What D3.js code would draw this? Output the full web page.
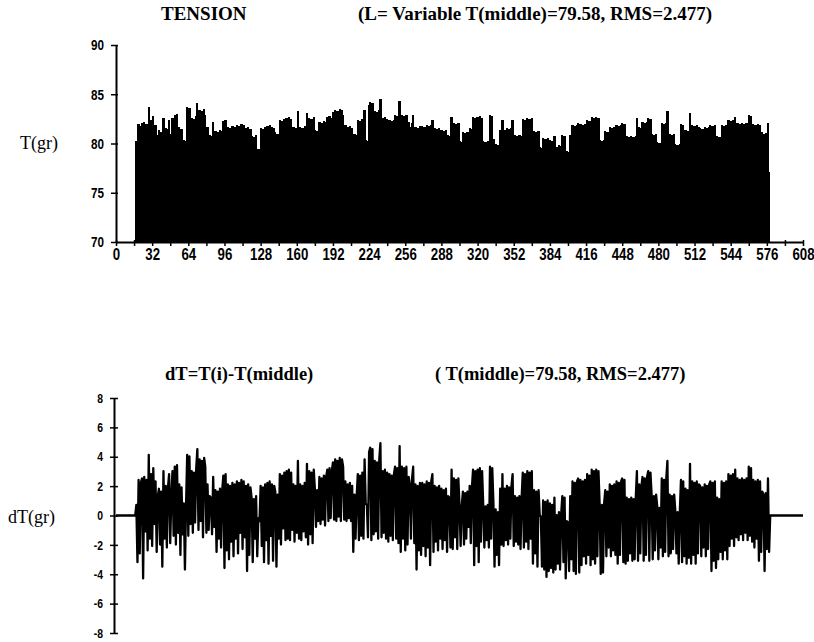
<!DOCTYPE html>
<html>
<head>
<meta charset="utf-8">
<script src="https://cdn.jsdelivr.net/npm/d3@7"></script>
<style>
body { margin: 0; background: #fff; }
</style>
</head>
<body>
<svg id="chart" width="814" height="642"></svg>
<script>
// tension samples, first one is sample no. 18, last one no. 578
var firstIndex = 18;
var tension = [
80.3, 76.4, 82.0, 77.0, 81.8, 82.1, 75.3, 82.2, 78.5, 82.0,
77.2, 83.7, 78.0, 82.4, 77.5, 82.8, 79.0, 81.9, 77.1, 80.9,
81.4, 77.6, 81.2, 76.1, 82.6, 78.0, 81.6, 77.4, 81.5, 82.4,
77.7, 81.0, 82.6, 78.2, 82.9, 77.6, 83.0, 78.4, 81.7, 76.9,
81.5, 78.3, 80.4, 75.9, 80.3, 83.7, 78.2, 83.6, 79.0, 82.6,
78.4, 82.5, 79.1, 82.8, 84.1, 78.6, 83.4, 79.2, 83.3, 78.1,
83.5, 82.9, 78.4, 81.7, 78.6, 80.9, 80.8, 78.3, 82.2, 78.8,
81.3, 77.1, 81.2, 78.0, 81.4, 77.4, 81.3, 82.3, 76.0, 82.4,
77.2, 81.7, 76.6, 81.6, 77.8, 81.8, 76.8, 81.7, 78.0, 81.9,
77.0, 81.8, 78.4, 82.0, 77.3, 81.9, 78.1, 81.6, 75.8, 81.7,
76.9, 81.5, 80.8, 76.4, 80.7, 78.0, 80.9, 76.8, 79.4, 79.2,
81.6, 77.5, 81.5, 76.4, 81.7, 77.9, 81.8, 76.3, 81.9, 78.2,
81.7, 76.5, 81.6, 81.2, 76.1, 81.0, 78.0, 82.4, 77.6, 82.3,
78.7, 82.5, 77.9, 82.6, 78.0, 82.7, 77.9, 82.5, 78.6, 81.7,
77.8, 81.6, 78.4, 83.3, 78.0, 81.7, 77.9, 81.6, 78.5, 81.8,
78.1, 83.1, 77.6, 82.6, 78.3, 82.5, 77.7, 82.7, 81.4, 78.8,
81.3, 79.2, 82.2, 79.0, 82.1, 79.3, 82.3, 78.9, 82.2, 82.7,
79.2, 82.8, 79.4, 82.6, 83.2, 79.3, 83.4, 79.2, 83.3, 79.5,
83.5, 79.2, 83.4, 82.9, 79.3, 81.9, 79.2, 81.7, 79.4, 81.8,
79.2, 81.6, 77.1, 81.0, 78.0, 80.9, 82.4, 77.9, 82.3, 78.2,
82.5, 78.0, 83.4, 80.4, 80.3, 78.1, 83.9, 84.2, 77.9, 84.1,
78.3, 83.3, 78.5, 83.2, 78.0, 83.4, 84.5, 78.1, 82.6, 78.4,
82.7, 78.0, 82.5, 77.8, 82.4, 78.2, 82.3, 77.9, 82.4, 82.9,
78.0, 82.8, 77.7, 84.3, 77.1, 82.9, 78.0, 82.8, 77.2, 82.9,
77.6, 82.2, 81.7, 78.0, 82.1, 82.9, 77.7, 81.7, 75.9, 81.6,
77.2, 81.8, 76.9, 81.8, 77.5, 81.7, 76.8, 81.9, 77.4, 81.8,
76.2, 81.9, 82.4, 77.1, 81.6, 77.8, 81.5, 77.2, 81.6, 78.0,
81.4, 77.3, 81.3, 77.9, 81.4, 77.1, 80.9, 80.8, 77.4, 82.7,
77.3, 82.1, 78.1, 82.0, 77.3, 82.1, 80.3, 77.5, 80.2, 81.2,
77.6, 81.1, 78.0, 81.2, 78.8, 81.6, 77.7, 81.5, 82.7, 76.2,
82.6, 77.5, 82.7, 76.4, 82.8, 77.8, 82.6, 80.3, 77.4, 80.2,
77.9, 80.3, 77.4, 82.9, 78.0, 82.8, 80.5, 76.1, 80.0, 76.9,
79.8, 76.2, 81.4, 77.6, 82.4, 77.5, 81.4, 77.9, 81.6, 77.6,
81.5, 78.0, 81.6, 82.4, 77.5, 80.9, 77.8, 80.8, 77.6, 80.9,
77.3, 80.8, 82.5, 77.4, 82.4, 77.8, 82.6, 77.3, 82.5, 78.0,
82.6, 76.3, 81.3, 77.0, 81.2, 76.1, 81.3, 79.6, 79.5, 76.1,
80.6, 75.9, 80.5, 75.4, 80.6, 75.8, 80.4, 76.0, 80.3, 75.7,
80.8, 75.9, 79.6, 76.3, 79.8, 75.9, 79.7, 80.9, 76.4, 80.8,
75.3, 79.2, 79.1, 75.8, 80.9, 76.6, 81.9, 75.8, 81.8, 75.6,
81.9, 82.1, 75.7, 82.0, 76.2, 81.9, 76.8, 82.0, 76.3, 82.4,
76.9, 82.3, 76.2, 82.7, 76.6, 82.6, 76.3, 82.7, 76.8, 82.6,
80.4, 75.6, 80.3, 75.7, 80.4, 81.3, 76.8, 81.2, 77.4, 81.7,
76.8, 81.6, 77.2, 81.7, 76.9, 81.9, 76.3, 81.8, 76.9, 81.9,
82.1, 76.4, 82.0, 76.3, 80.8, 76.5, 80.7, 77.0, 80.8, 76.5,
80.7, 76.6, 80.8, 82.6, 76.5, 81.7, 77.0, 81.6, 82.2, 76.5,
82.1, 76.9, 82.2, 82.6, 76.5, 82.5, 81.0, 76.6, 80.9, 77.2,
81.0, 80.2, 76.6, 80.1, 77.4, 82.1, 76.8, 82.0, 77.1, 82.1,
83.3, 76.8, 81.0, 77.0, 80.9, 77.3, 81.0, 79.9, 77.0, 79.8,
76.3, 79.9, 82.0, 76.4, 81.9, 76.8, 81.4, 76.3, 81.3, 76.7,
83.1, 76.3, 81.9, 76.9, 81.8, 76.3, 81.9, 77.0, 81.7, 81.6,
76.8, 81.5, 77.4, 81.7, 76.8, 81.6, 77.3, 81.7, 81.9, 75.8,
81.8, 76.5, 81.9, 76.0, 80.8, 76.6, 80.7, 77.1, 81.9, 76.6,
81.8, 77.2, 81.9, 76.6, 82.4, 77.5, 82.3, 78.0, 82.4, 77.5,
82.7, 78.1, 82.1, 77.9, 82.0, 78.3, 82.1, 77.9, 82.0, 78.4,
82.1, 77.9, 82.9, 78.2, 82.8, 77.8, 82.0, 77.4, 81.9, 78.0,
82.0, 76.5, 81.9, 77.1, 81.2, 81.0, 75.8, 81.1, 77.3, 82.1,
77.1
];
var tMiddle = 79.58;
var lastSample = 608;

var xTicks = d3.range(0, 609, 16);
var xLabelEvery = 32;
var yTicksTop = [70, 75, 80, 85, 90];
var yTicksBottom = [-8, -6, -4, -2, 0, 2, 4, 6, 8];

var titleTop = "TENSION";
var subTop = "(L= Variable  T(middle)=79.58, RMS=2.477)";
var titleBottom = "dT=T(i)-T(middle)";
var subBottom = "( T(middle)=79.58, RMS=2.477)";

var svg = d3.select("#chart");
var serif = "'Liberation Serif', 'Times New Roman', serif";
var sans = "'Liberation Sans', Arial, sans-serif";

var x = d3.scaleLinear().domain([0, lastSample]).range([116, 803]);
var yTop = d3.scaleLinear().domain([70, 90]).range([242, 45]);
var yBot = d3.scaleLinear().domain([-8, 8]).range([633, 398]);
var step = x(1) - x(0);

// bars (a bit wider than a sample, like the printed plot)
svg.append("g")
.attr("shape-rendering", "crispEdges")
.selectAll("rect")
.data(tension)
.join("rect")
.attr("x", (d, i) => x(firstIndex + i - 1))
.attr("width", 2 * step)
.attr("y", d => yTop(d))
.attr("height", d => yTop(70) - yTop(d))
.attr("fill", "#000");

var gx = svg.append("g")
.attr("transform", `translate(0,${yTop(70)})`)
.call(d3.axisBottom(x)
.tickValues(xTicks)
.tickSize(4)
.tickSizeOuter(0)
.tickPadding(2)
.tickFormat(d => d % xLabelEvery === 0 ? d : ""));
gx.select(".domain").attr("stroke-width", 2);
gx.selectAll(".tick line").attr("y1", -2).attr("stroke-width", 1.5);
gx.selectAll(".tick text")
.attr("font-family", sans).attr("font-size", 17).attr("font-weight", "bold")
.attr("fill", "#000")
.attr("transform", "scale(0.78,1)");

var gy = svg.append("g")
.attr("transform", `translate(${x(0)},0)`)
.call(d3.axisLeft(yTop)
.tickValues(yTicksTop)
.tickSize(5)
.tickSizeOuter(0));
gy.select(".domain").attr("stroke-width", 2);
gy.selectAll(".tick line").attr("x2", -5).attr("x1", 2).attr("stroke-width", 1.5);
gy.selectAll(".tick text")
.attr("x", null)
.attr("transform", "translate(-12,0) scale(0.78,1)")
.attr("font-family", sans).attr("font-size", 15).attr("font-weight", "bold")
.attr("fill", "#000");

// bottom panel: dT, zero where no sample exists
var dT = d3.range(0, lastSample + 1).map(function(i) {
var k = i - firstIndex;
return (k >= 0 && k < tension.length) ? tension[k] - tMiddle : 0;
});

svg.append("path")
.datum(dT)
.attr("fill", "none")
.attr("stroke", "#000")
.attr("stroke-width", 2.3)
.attr("stroke-linejoin", "round")
.attr("d", d3.line().x((d, i) => x(i)).y(d => yBot(d)));

var gy2 = svg.append("g")
.attr("transform", `translate(114,0)`)
.call(d3.axisLeft(yBot)
.tickValues(yTicksBottom)
.tickSize(4)
.tickSizeOuter(0)
.tickFormat(d => String(d)));
gy2.select(".domain").attr("stroke-width", 2);
gy2.selectAll(".tick line").attr("x1", 4).attr("x2", -4).attr("stroke-width", 1.5);
gy2.selectAll(".tick text")
.attr("x", null)
.attr("transform", "translate(-11,0) scale(0.8,1)")
.attr("font-family", sans).attr("font-size", 13).attr("font-weight", "bold")
.attr("fill", "#000");

// texts
svg.append("text").attr("x", 161).attr("y", 20)
.attr("font-family", serif).attr("font-weight", "bold").attr("font-size", 19)
.text(titleTop);
svg.append("text").attr("x", 358).attr("y", 20)
.attr("font-family", serif).attr("font-weight", "bold").attr("font-size", 19)
.text(subTop);
svg.append("text").attr("x", 165).attr("y", 380)
.attr("font-family", serif).attr("font-weight", "bold").attr("font-size", 18.5)
.text(titleBottom);
svg.append("text").attr("x", 435).attr("y", 380)
.attr("font-family", serif).attr("font-weight", "bold").attr("font-size", 18.5)
.text(subBottom);

svg.append("text").attr("x", 20).attr("y", 149)
.attr("font-family", serif).attr("font-size", 18)
.text("T(gr)");
svg.append("text").attr("x", 8).attr("y", 523)
.attr("font-family", serif).attr("font-size", 18)
.text("dT(gr)");
</script>
</body>
</html>
